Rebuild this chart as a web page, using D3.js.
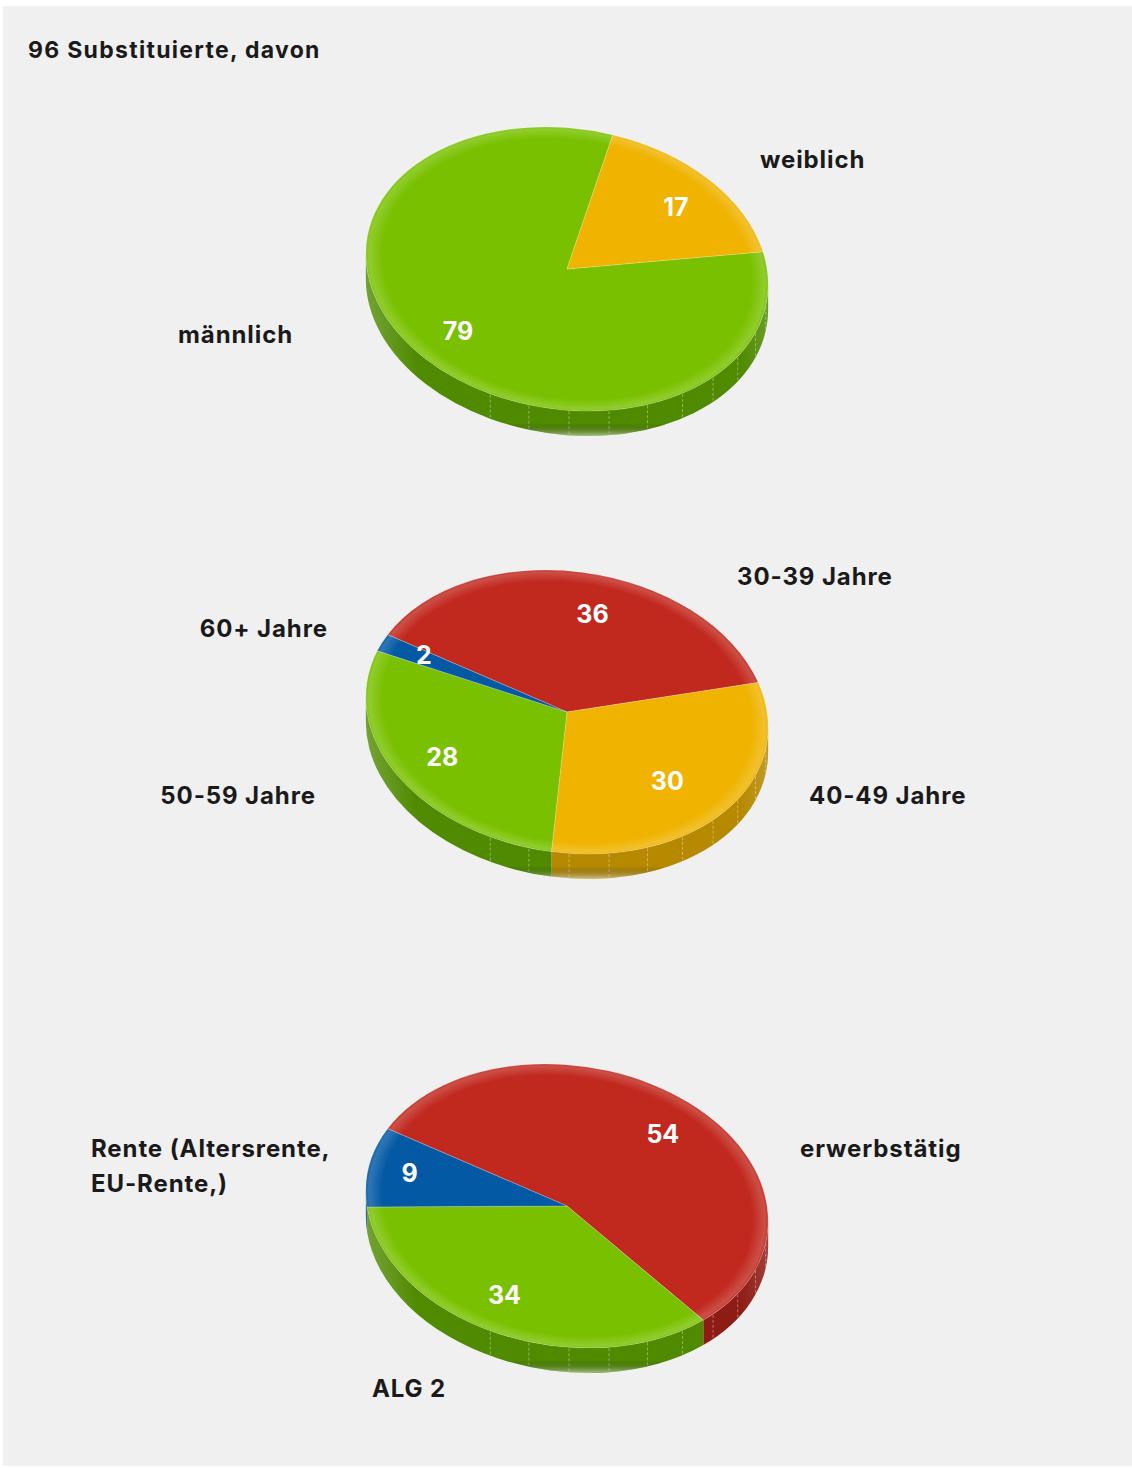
<!DOCTYPE html>
<html>
<head>
<meta charset="utf-8">
<script src="https://cdn.jsdelivr.net/npm/d3@7"></script>
<style>
  body { margin: 0; background: #fff; }
  svg { display: block; }
  text { font-family: Inter, "Liberation Sans", Arial, sans-serif; font-weight: 700; }
</style>
</head>
<body>
<svg id="chart"></svg>
<script>
const width = 1132;
const height = 1468;

const title = '96 Substituierte, davon';

// chart 1: Geschlecht
const sexLabels = ['männlich', 'weiblich'];
const sexValues = [79, 17];
const sexColors = ['green', 'orange'];

// chart 2: Alter
const ageLabels = ['30-39 Jahre', '40-49 Jahre', '50-59 Jahre', '60+ Jahre'];
const ageValues = [36, 30, 28, 2];
const ageColors = ['red', 'orange', 'green', 'blue'];

// chart 3: Einkommen
const incomeLabels = ['erwerbstätig', 'ALG 2', 'Rente (Altersrente,|EU-Rente,)'];
const incomeValues = [54, 34, 9];
const incomeColors = ['red', 'green', 'blue'];

const palette = {
    green:  {top: '#79c100', side: '#4f8a00'},
    orange: {top: '#efb300', side: '#b68900'},
    red:    {top: '#c1291f', side: '#8f1c14'},
    blue:   {top: '#0459a4', side: '#034482'}
};

// layout of the three pies (tilted disc, slightly sheared for the perspective look)
const rx = 200, ry = 142, depth = 25, shear = 0.15;
const cx = 567;
const pies = [
    {labels: sexLabels, values: sexValues, colors: sexColors, cy: 269, start: 83,
     place: [{dx: -274, dy: 74, anchor: 'end'}, {dx: 193, dy: -101, anchor: 'start'}]},
    {labels: ageLabels, values: ageValues, colors: ageColors, cy: 712, start: -57,
     place: [{dx: 170, dy: -127, anchor: 'start'}, {dx: 242, dy: 92, anchor: 'start'},
             {dx: -251, dy: 92, anchor: 'end'}, {dx: -239, dy: -75, anchor: 'end'}]},
    {labels: incomeLabels, values: incomeValues, colors: incomeColors, cy: 1206, start: -57,
     place: [{dx: 233, dy: -49, anchor: 'start'}, {dx: -195, dy: 191, anchor: 'start'},
             {dx: -476, dy: -49, anchor: 'start'}]}
];

const svg = d3.select('#chart').attr('width', width).attr('height', height);
const defs = svg.append('defs');

// rim glow on the top face
const rim = defs.append('radialGradient').attr('id', 'rim');
rim.append('stop').attr('offset', '0.92').attr('stop-color', '#fff').attr('stop-opacity', 0);
rim.append('stop').attr('offset', '0.985').attr('stop-color', '#fff').attr('stop-opacity', 0.18);
rim.append('stop').attr('offset', '1').attr('stop-color', '#fff').attr('stop-opacity', 0.05);

// side shading: lighter ends and soft lower edge
const sideH = defs.append('linearGradient').attr('id', 'sideH');
sideH.append('stop').attr('offset', '0').attr('stop-color', '#fff').attr('stop-opacity', 0.2);
sideH.append('stop').attr('offset', '0.1').attr('stop-color', '#fff').attr('stop-opacity', 0);
sideH.append('stop').attr('offset', '0.9').attr('stop-color', '#fff').attr('stop-opacity', 0);
sideH.append('stop').attr('offset', '1').attr('stop-color', '#fff').attr('stop-opacity', 0.18);
const sideV = defs.append('linearGradient').attr('id', 'sideV').attr('x1', 0).attr('x2', 0).attr('y1', 0).attr('y2', 1);
sideV.append('stop').attr('offset', '0').attr('stop-color', '#000').attr('stop-opacity', 0);
sideV.append('stop').attr('offset', '0.93').attr('stop-color', '#000').attr('stop-opacity', 0);
sideV.append('stop').attr('offset', '1').attr('stop-color', '#f0f0f0').attr('stop-opacity', 0.55);

svg.append('rect')
    .attr('x', 3).attr('y', 6)
    .attr('width', width - 3).attr('height', height - 8)
    .attr('fill', '#f0f0f0');

svg.append('text')
    .attr('x', 28).attr('y', 58)
    .attr('font-size', 23)
    .attr('letter-spacing', 1.3)
    .attr('fill', '#1a1a1a')
    .text(title);

const rad = d => d * Math.PI / 180;
// the wall hangs straight down on screen, so its silhouette is turned a little
const phi = Math.atan(shear * ry / rx);
const vis0 = Math.PI / 2 + phi, vis1 = 3 * Math.PI / 2 + phi;

pies.forEach(cfg => {
    const cy = cfg.cy;
    // point on the (unsheared) disc; dz drops it down the wall
    const pt = (a, k = 1, dz = 0) => [cx + rx * k * Math.sin(a) - shear * dz, cy - ry * k * Math.cos(a) + dz];

    const arcs = d3.pie().sort(null)
        .startAngle(rad(cfg.start))
        .endAngle(rad(cfg.start) + 2 * Math.PI)(cfg.values);
    const total = d3.sum(cfg.values);

    const g = svg.append('g')
        .attr('transform', `matrix(1,0,${shear},1,${-shear * cy},0)`);

    const wall = (a0, a1) => {
        const p0 = pt(a0), p1 = pt(a1), q1 = pt(a1, 1, depth), q0 = pt(a0, 1, depth);
        const large = a1 - a0 > Math.PI ? 1 : 0;
        return `M${p0}A${rx},${ry} 0 ${large} 1 ${p1}L${q1}A${rx},${ry} 0 ${large} 0 ${q0}Z`;
    };

    const sideGroup = g.append('g');
    arcs.forEach((d, i) => {
        [-2, 0, 2].forEach(shift => {
            const a0 = Math.max(d.startAngle + shift * Math.PI, vis0);
            const a1 = Math.min(d.endAngle + shift * Math.PI, vis1);
            if (a1 <= a0) return;
            sideGroup.append('path')
                .attr('d', wall(a0, a1))
                .attr('fill', palette[cfg.colors[i]].side);
        });
    });
    // facet lines on the wall
    d3.range(105, 212, 11.5).forEach(deg => {
        const a = rad(deg);
        sideGroup.append('line')
            .attr('x1', pt(a, 1, 1)[0]).attr('y1', pt(a, 1, 1)[1])
            .attr('x2', pt(a, 1, depth - 1)[0]).attr('y2', pt(a, 1, depth - 1)[1])
            .attr('stroke', '#fff').attr('stroke-opacity', 0.45)
            .attr('stroke-width', 0.8).attr('stroke-dasharray', '3,2');
    });
    sideGroup.append('path').attr('d', wall(vis0, vis1)).attr('fill', 'url(#sideH)');
    sideGroup.append('path').attr('d', wall(vis0, vis1)).attr('fill', 'url(#sideV)');

    // top face
    g.selectAll('path.slice').data(arcs).enter().append('path')
        .attr('class', 'slice')
        .attr('d', d => {
            const large = d.endAngle - d.startAngle > Math.PI ? 1 : 0;
            return `M${cx},${cy}L${pt(d.startAngle)}A${rx},${ry} 0 ${large} 1 ${pt(d.endAngle)}Z`;
        })
        .attr('fill', (d, i) => palette[cfg.colors[i]].top)
        .attr('stroke', 'rgba(255,255,255,0.35)')
        .attr('stroke-width', 0.6);

    g.append('ellipse')
        .attr('cx', cx).attr('cy', cy)
        .attr('rx', rx).attr('ry', ry)
        .attr('fill', 'url(#rim)');

    // value labels (unsheared)
    const labelPos = d => pt((d.startAngle + d.endAngle) / 2, d.value / total < 0.1 ? 0.82 : 0.7);
    svg.append('g').selectAll('text.value').data(arcs).enter().append('text')
        .attr('class', 'value')
        .attr('x', d => labelPos(d)[0])
        .attr('y', d => labelPos(d)[1])
        .attr('dy', '0.36em')
        .attr('text-anchor', 'middle')
        .attr('font-size', 25)
        .attr('fill', '#fff')
        .text(d => d.value);

    // category labels
    cfg.labels.forEach((lab, i) => {
        const p = cfg.place[i];
        const t = svg.append('text')
            .attr('x', cx + p.dx).attr('y', cy + p.dy)
            .attr('text-anchor', p.anchor)
            .attr('font-size', 24)
            .attr('letter-spacing', 0.9)
            .attr('fill', '#1a1a1a');
        lab.split('|').forEach((line, j) => {
            t.append('tspan').attr('x', cx + p.dx).attr('dy', j ? 35 : 0).text(line);
        });
    });
});
</script>
</body>
</html>
